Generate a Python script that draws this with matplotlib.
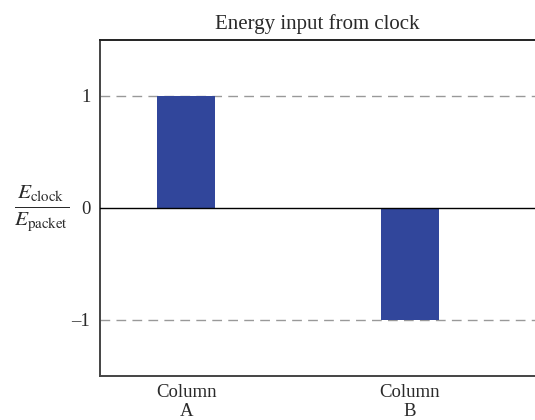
import matplotlib
matplotlib.use("Agg")
import matplotlib.pyplot as plt

# Data
columns = ["Column\nA", "Column\nB"]
positions = [1, 2]
energy_ratio = [1, -1]

plt.rcParams['font.family'] = ['Liberation Serif', 'DejaVu Serif']
plt.rcParams['mathtext.fontset'] = 'stix'

fig = plt.figure(figsize=(5.35, 4.2), dpi=100)
ax = fig.add_axes([0.187, 0.105, 0.813, 0.8])

ax.bar(positions, energy_ratio, width=0.26, color='#31469b', zorder=3)

ax.axhline(0, color='black', lw=1.0, zorder=4)
for yv in (1, -1):
    ax.axhline(yv, color='#999999', lw=1.0, ls=(0, (7, 4.5)), zorder=1)

ax.set_xlim(0.615, 2.56)
ax.set_ylim(-1.5, 1.5)

ax.set_yticks([1, 0, -1])
ax.set_yticklabels(['1', '0', '\u20131'])
ax.set_xticks(positions)
ax.set_xticklabels(columns, linespacing=1.1)
ax.tick_params(axis='both', length=0, labelsize=13.5, colors='#2a2a2a')
ax.tick_params(axis='y', pad=7)
ax.tick_params(axis='x', pad=6)

ax.spines['right'].set_visible(False)
ax.spines['left'].set_color('#444444')
ax.spines['bottom'].set_color('#444444')
ax.spines['top'].set_color('#222222')
for s in ('left', 'bottom', 'top'):
    ax.spines[s].set_linewidth(1.4)

ax.set_title('Energy input from clock', fontsize=15, pad=8, color='#2a2a2a')

fig.text(0.078, 0.505, r'$\frac{E_{\mathrm{clock}}}{E_{\mathrm{packet}}}$',
         fontsize=22, ha='center', va='center', color='#2a2a2a')

fig.savefig('out.png', dpi=100)
